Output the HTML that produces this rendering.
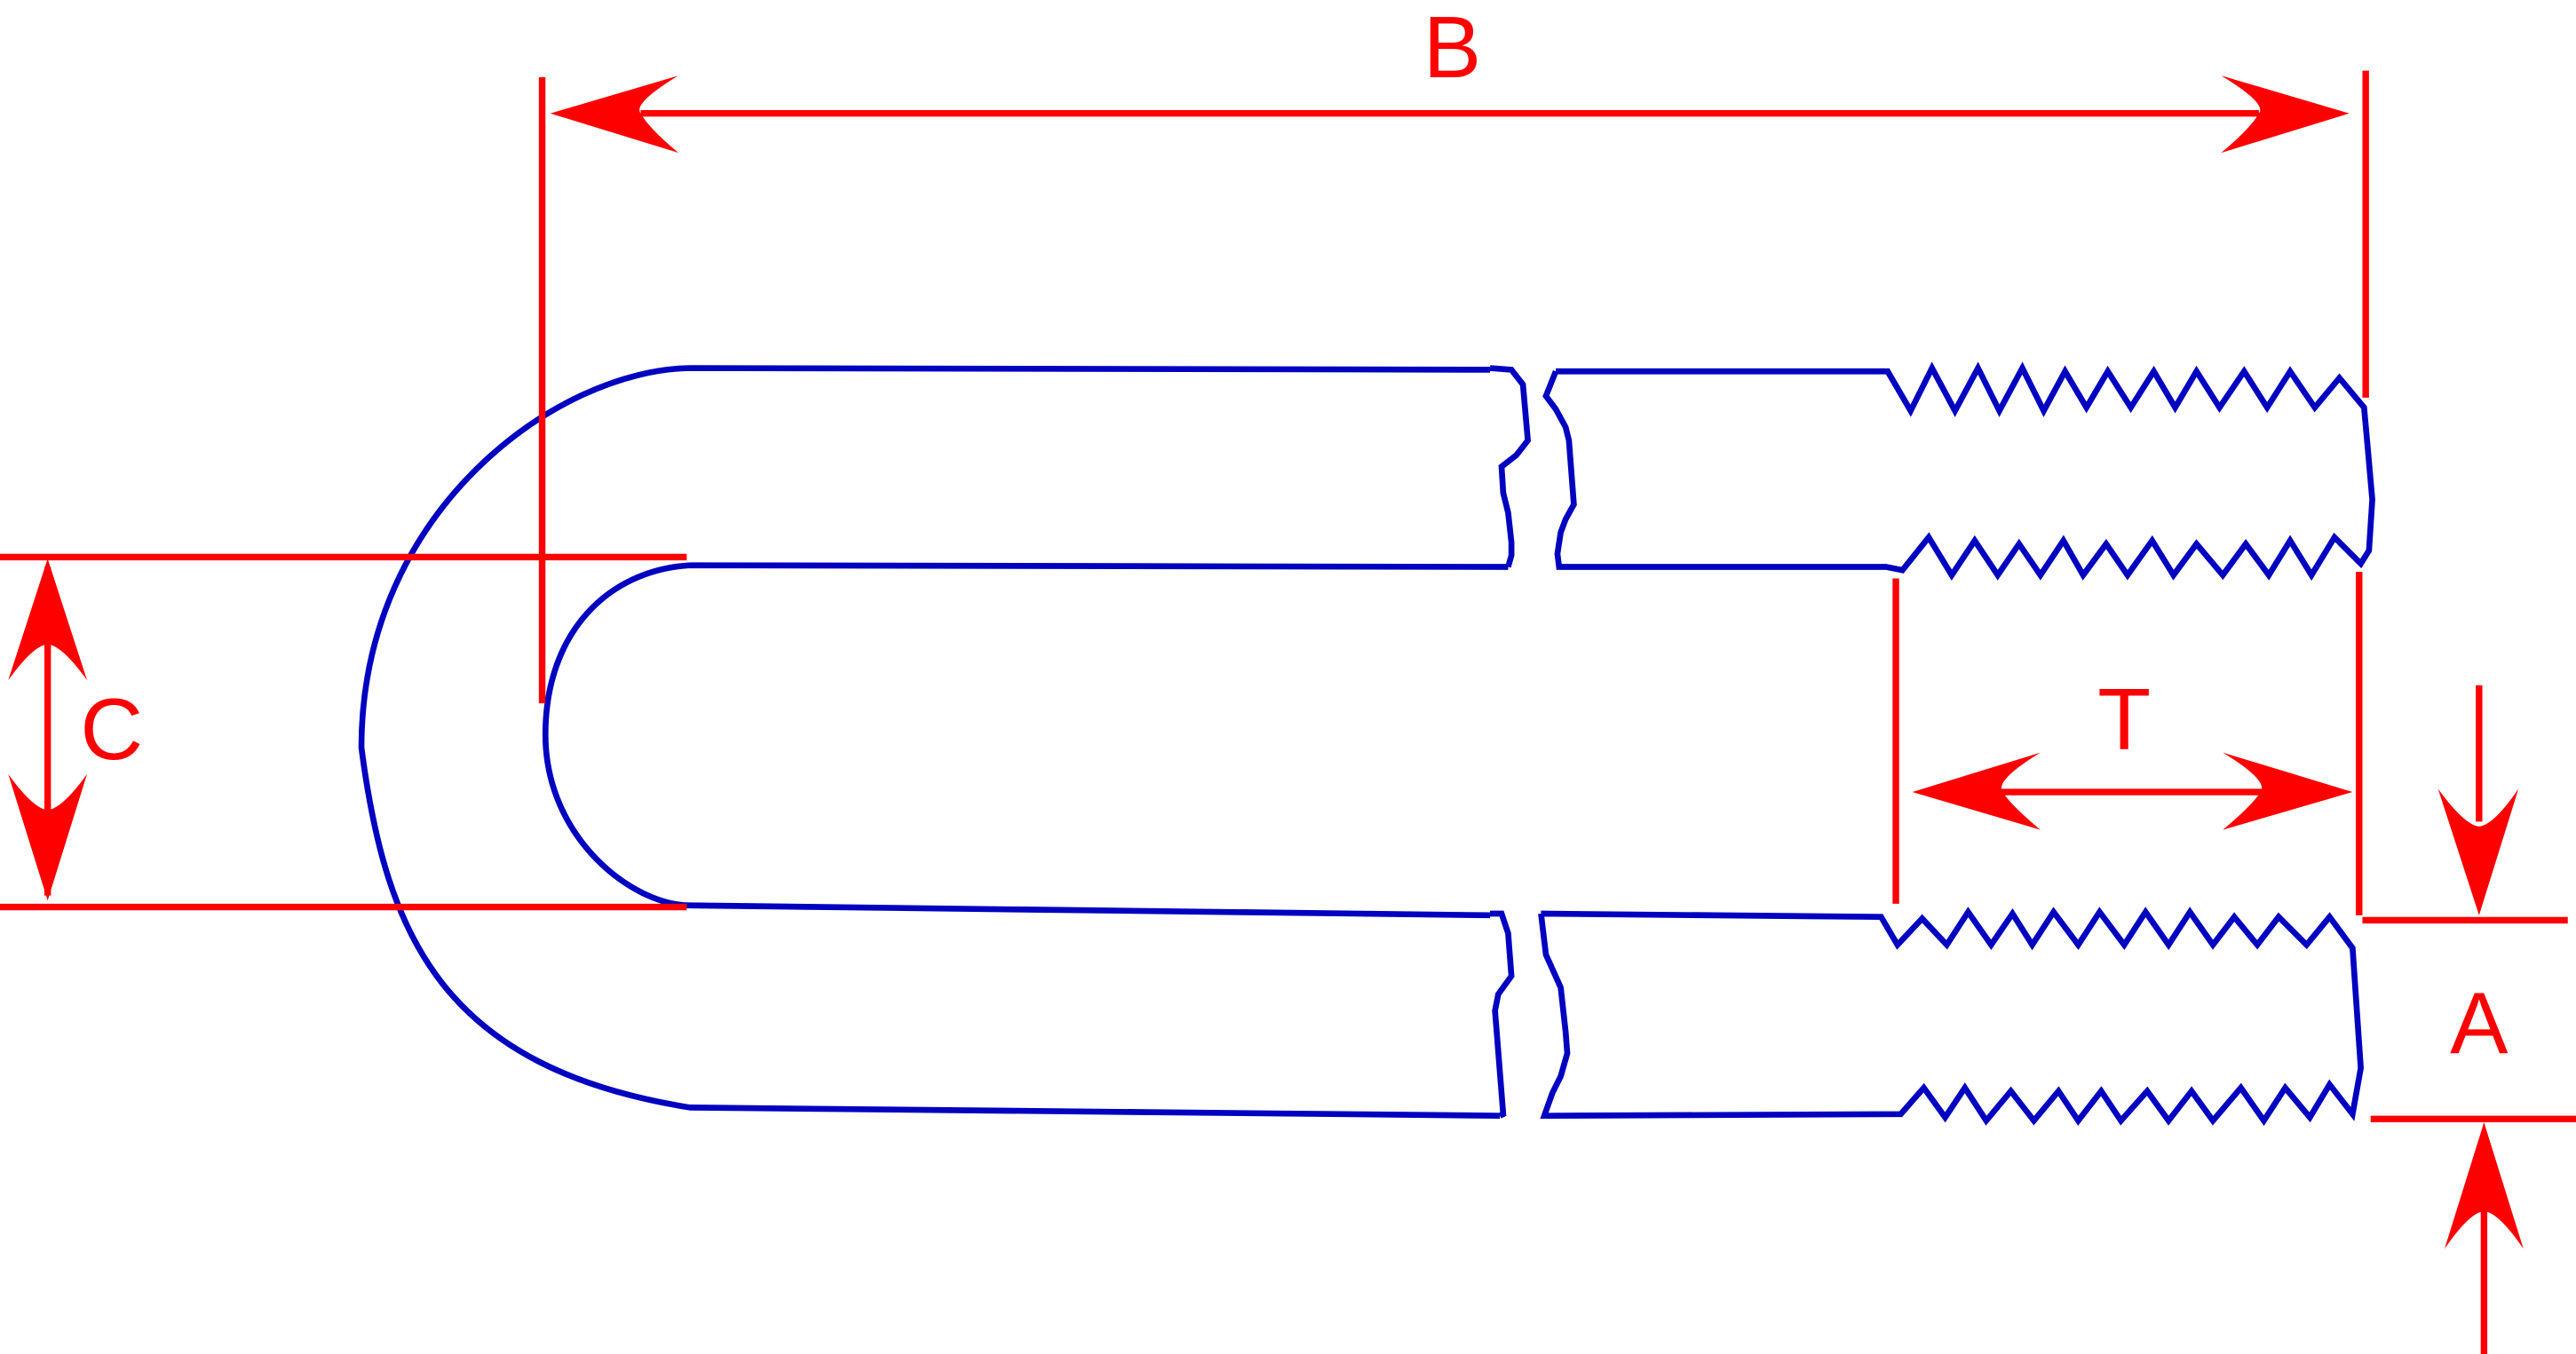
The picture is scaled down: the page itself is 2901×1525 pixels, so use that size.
<!DOCTYPE html>
<html><head><meta charset="utf-8"><style>
html,body{margin:0;padding:0;background:#fff;}
svg{display:block;}
</style></head><body>
<svg width="2901" height="1525" viewBox="0 0 1568 824" preserveAspectRatio="none" xmlns="http://www.w3.org/2000/svg">
<g fill="none" stroke="#0000c0" stroke-width="3.6" stroke-linejoin="miter">
<path d="M420,224 L907,225 M420,224 C340,225 220,310 220,455 C235,570 270,650 420,674 L913,679"/>
<path d="M420,344 L918,345 M420,344 C370,347 332,385 332,447 C332,510 385,551 420,551 L907,557"/>
<polyline points="907,224 920,225 927,234 930,268 923,277 914,284 915,300 918,312 920,330 920,338 918,345"/>
<polyline points="907,556 914,556 918,568 920,594 912,605 910,615 915,678 913,679"/>
<polyline points="947,226 1149,226 1163,250 1176,224 1190,250 1204,224 1217,250 1231,224 1244,250 1257,226 1270,248 1283,226 1297,248 1311,226 1324,248 1337,226 1351,248 1366,226 1380,248 1394,226 1409,248 1424,230 1439,248 1441,270 1444,304 1442,335 1437,343 1435,341 1421,327 1407,350 1394,329 1381,350 1367,331 1353,350 1337,331 1323,350 1310,329 1295,350 1282,331 1268,350 1256,329 1242,350 1229,331 1216,350 1202,329 1188,350 1174,327 1158,347 1148,345 949,345 948,337 950,324 953,316 958,307 955,268 953,260 947,249 941,241 947,226"/>
<polyline points="938,556 1145,558 1155,575 1170,559 1185,575 1198,555 1212,575 1225,556 1237,575 1250,555 1265,575 1278,555 1293,575 1306,555 1320,575 1333,555 1347,575 1360,558 1374,575 1387,558 1404,575 1418,558 1432,577 1437,650 1432,678 1418,660 1406,680 1391,662 1378,682 1364,662 1347,682 1334,664 1320,682 1307,664 1291,682 1279,664 1265,682 1253,664 1238,682 1224,664 1209,682 1196,662 1184,680 1171,662 1157,678 943,679 940,679 945,665 950,655 954,641 953,628 950,601 941,581 938,556"/>
</g>
<g stroke="#ff0000" stroke-width="4" fill="none">
<path d="M330,47V428 M1440,43V242 M390,69H1375"/>
<path d="M0,339H418 M0,552H418 M29,345V545"/>
<path d="M1154,352V550 M1436,348V557 M1218,482H1380"/>
<path d="M1509,417V500 M1438,560H1563 M1443,681H1568 M1512,735V824"/>
</g>
<g fill="#ff0000">
<path d="M335,69 L413,46 Q385,63 390,69 Q395,78 413,93 Z"/>
<path d="M1430,69 L1352,46 Q1380,63 1375,69 Q1370,78 1352,93 Z"/>
<path d="M29,340 L5,414 Q20,393 29,392 Q38,393 53,414 Z"/>
<path d="M29,548 L5,471 Q20,492 29,493 Q38,492 53,471 Z"/>
<path d="M1164,482 L1242,458 Q1214,475 1219,482 Q1224,490 1242,505 Z"/>
<path d="M1432,482 L1353,458 Q1381,475 1376,482 Q1371,490 1353,505 Z"/>
<path d="M1509,557 L1484,480 Q1500,502 1509,503 Q1518,502 1533,480 Z"/>
<path d="M1512,683 L1488,760 Q1503,738 1512,737 Q1521,738 1536,760 Z"/>
</g>
<g fill="#ff0000" font-family="Liberation Sans, Arial, sans-serif" font-size="53" text-anchor="middle">
<text x="884" y="47">B</text>
<text x="68" y="462">C</text>
<text x="1293" y="456">T</text>
<text x="1509" y="641">A</text>
</g>
</svg>
</body></html>
